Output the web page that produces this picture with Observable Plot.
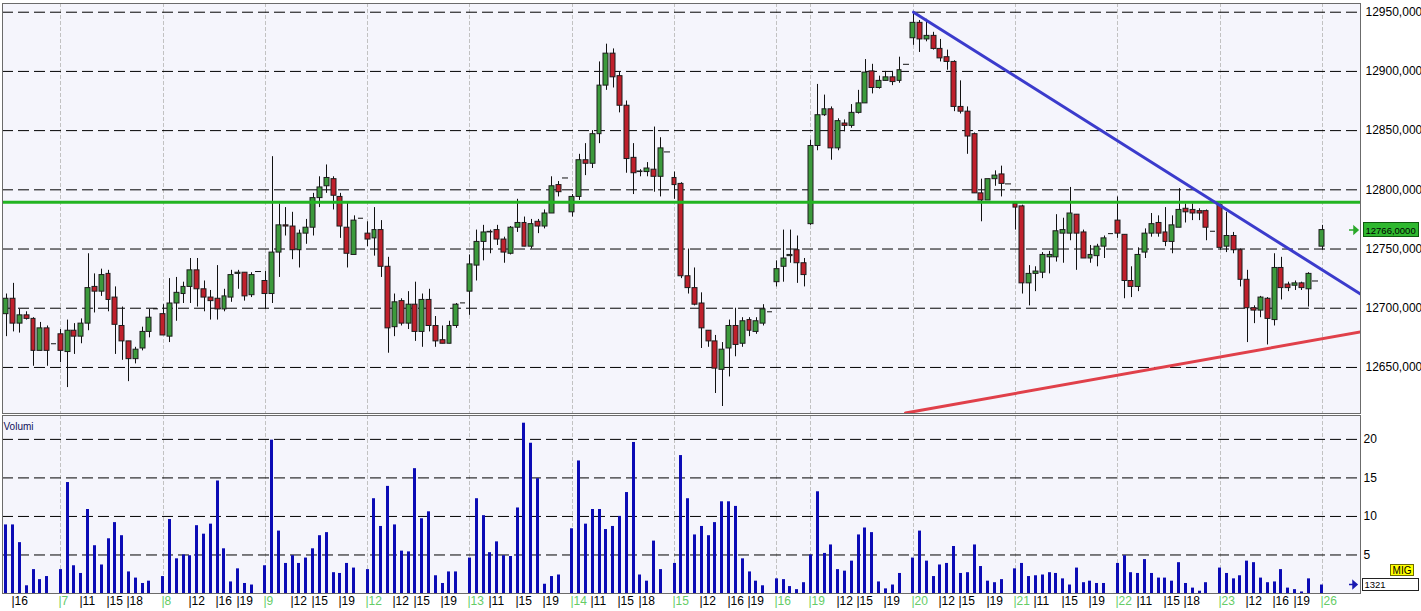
<!DOCTYPE html>
<html><head><meta charset="utf-8">
<script src="https://cdn.jsdelivr.net/npm/d3@7"></script>
<script src="https://cdn.jsdelivr.net/npm/@observablehq/plot@0.6"></script>
<style>
html,body{margin:0;padding:0;background:#fff;overflow:hidden;}
#wrap{position:relative;width:1421px;height:611px;font-family:"Liberation Sans",Arial,sans-serif;}
#wrap svg{position:absolute;left:0;}
</style></head><body><div id="wrap"></div>
<script>
// ---- data: hourly candles, slot index (15 slots per trading day, 08:00..22:00) ----
const firstSlot = -8;
const opens = [
12695,12708,12687,12694,12691,12664,12683,12670,
12678,12663,12681,12676,12687,12718,12714,12729,12709,12685,12672,12657,12666,12680,12699.5,
12695,12676,12704,12712,12718,12732,12716,12709,12708,12699,12709,12729,12730,12711,12731,
12723,12712,12747,12770,12769,12749,12763,12768,12793,12803,12809,12794,12768,12745,12776,
12763,12759,12766,12735,12684,12706,12687,12703,12680,12707,12685,12673,12670,12685,12704.5,
12714,12736,12756,12764,12766,12758,12746,12768,12772,12752,12773,12769,12780,12804,12810,
12781,12794,12825,12822,12847,12888,12915,12896,12871,12827,12815,12815,12817,12811,12832,
12810,12805,12727,12717,12704,12681,12672,12648,12666,12685,12670,12690,12680,12687,12697,
12722,12735,12744,12749,12738,
12771,12837,12863,12868,12835,12856,12854,12865,12873,12900,12886,12892,12895,12892,12906,
12928,12941,12927,12930,12919,12912,12908,12870,12866,12847,12797,12791,12809,12813,12805,
12788,12786,12721,12729,12730,12743,12743,12763,12763,12779,12764,12742,12744,12752,12763,
12774,12762,12723,12718,12747,12763,12772,12764,12756,12768,12784,12783,12782,12782,12765,
12787,12752,12761,12749,12724,12700,12698,12708,12690,12734,12720,12719,12721,12716,12723,
12752];
const highs = [
12712,12721,12699,12697,12692,12688,12685,12670,
12682,12690,12687,12691,12746,12729,12733,12732,12718,12701,12672,12667,12684,12699,12699.5,
12703,12725,12726,12722,12742,12742,12723,12715,12736,12716,12732,12732,12730,12730,12731,
12731,12828,12788,12785,12781,12766,12775,12797,12811,12821,12811,12797,12790,12778,12776,
12773,12785,12774,12743,12712,12708,12714,12722,12712,12716,12693,12685,12689,12704,12704.5,
12745,12766,12770,12766,12770,12760,12769,12792,12777,12775,12775,12783,12811,12807,12810,
12796,12830,12839,12850,12908,12923,12919,12899,12875,12839,12817,12823,12853,12844,12832,
12815,12806,12750,12734,12713,12681,12677,12671,12690,12700,12692,12692,12692,12703,12697,
12740,12766,12766,12761,12742,
12842,12889,12880,12870,12860,12859,12872,12884,12910,12906,12896,12900,12900,12912,12906,
12950,12943,12944,12933,12927,12918,12909,12892,12870,12848,12809,12809,12816,12820,12805,
12788,12787,12736,12735,12747,12748,12779,12776,12802,12779,12766,12753,12754,12761,12763,
12794,12762,12735,12751,12767,12780,12778,12785,12778,12801,12788,12788,12784,12783,12765,
12788,12781,12764,12750,12732,12702,12710,12709,12746,12743,12722,12723,12722,12730,12723,
12770];
const lows = [
12676,12680,12679,12690,12651,12664,12651,12670,
12654,12633,12661,12670,12681,12696,12710,12697,12661,12656,12638,12653,12664,12675,12699.5,
12677,12671,12689,12704,12704,12701,12697,12690,12690,12697,12705,12716,12706,12709,12731,
12699,12704,12726,12761,12741,12734,12754,12761,12785,12797,12783,12759,12734,12745,12776,
12752,12744,12726,12662,12676,12685,12682,12672,12667,12680,12667,12670,12670,12683,12704.5,
12694,12723,12740,12746,12753,12738,12745,12764,12752,12750,12763,12767,12780,12794,12810,
12777,12791,12812,12818,12839,12884,12886,12865,12814,12796,12811,12811,12798,12794,12832,
12792,12725,12712,12702,12666,12667,12628,12617,12642,12659,12667,12676,12678,12685,12697,
12718,12722,12738,12721,12718,
12770,12833,12862,12825,12833,12849,12852,12864,12873,12881,12885,12892,12888,12890,12906,
12922,12916,12925,12918,12908,12901,12866,12864,12830,12797,12773,12791,12803,12794,12805,
12766,12712,12702,12714,12725,12729,12739,12738,12757,12732,12742,12738,12735,12742,12763,
12759,12708,12709,12714,12742,12760,12760,12752,12746,12768,12772,12774,12774,12757,12765,
12749,12747,12746,12718,12671,12687,12692,12669,12685,12707,12714,12715,12715,12701,12723,
12749];
const closes = [
12708,12687,12694,12691,12664,12683,12664,12670,
12664,12681,12676,12687,12717,12714,12728,12707,12686,12672,12657,12665,12680,12692,12699.5,
12677,12704,12713,12718,12732,12716,12709,12706,12699,12710,12728,12730,12710,12728,12731,
12712,12747,12770,12769,12749,12763,12768,12793,12802,12810,12795,12769,12746,12774,12776,
12758,12766,12735,12683,12705,12687,12703,12680,12707,12685,12672,12670,12685,12703,12704.5,
12737,12756,12764,12764.5,12758,12747,12768,12772,12752,12771,12769,12780,12803,12798,12810,
12794,12825,12822,12847,12888,12915,12895,12871,12826,12814,12815.5,12818,12811,12835,12832,
12804,12727,12717,12703,12683,12672,12649,12665,12685,12669,12689,12681,12689,12699,12697,
12733,12742,12745,12738,12728,
12837,12863,12868,12835,12858,12854,12865,12873,12899,12886,12892,12895,12891,12901,12906,
12941,12927,12930,12919,12911,12908,12870,12866,12845,12797,12791,12809,12812,12805,12805,
12785,12721,12729,12731,12745,12745,12765,12766,12780,12763,12742,12745,12752,12759,12763,
12763,12723,12718,12745,12763,12771,12763,12756,12770,12783,12781,12780,12780,12768,12765,
12751,12761,12749,12724,12700,12698,12709,12691,12734,12717,12717,12721,12717,12729,12723,
12766];
const volumes = [
8.9,8.9,6.6,1.0,3.1,1.8,2.2,0,
3.1,14.4,3.6,2.6,10.9,6.2,3.7,7.1,9.2,7.5,2.8,2.0,1.3,1.6,0,
2.2,9.6,4.5,5.0,4.9,8.8,7.7,9.0,14.6,5.8,1.5,3.2,1.3,1.1,0,
3.6,19.9,8.1,3.9,4.9,3.9,4.6,5.8,7.5,7.9,2.7,2.6,3.9,3.3,0,
3.1,12.3,8.7,13.9,8.9,5.5,5.4,16.2,9.7,10.6,2.3,1.3,2.8,2.8,0,
4.6,12.3,10.1,5.3,6.7,4.9,4.8,11.1,22.1,19.5,14.9,1.2,2.2,2.4,0,
8.4,17.2,9.0,10.9,10.9,8.3,8.7,10.0,13.1,19.6,2.4,1.6,6.8,3.1,0,
3.9,17.9,12.3,7.6,8.7,7.5,9.2,11.9,11.9,11.3,4.5,2.8,1.6,1.0,0,
1.9,1.8,0.9,0.5,1.4,
5.0,13.2,5.2,6.3,3.1,2.9,4.2,7.6,8.5,7.9,1.5,0.6,1.1,2.6,0,
4.6,8.1,4.2,2.2,3.7,3.9,6.1,2.6,2.7,6.3,3.5,1.6,1.4,1.8,0,
3.2,3.9,2.2,2.3,2.4,2.7,2.6,1.9,1.1,3.3,1.4,1.6,1.3,1.3,0,
3.9,4.9,2.7,2.6,4.4,2.6,2.0,2.0,1.6,4.0,1.3,0.7,0.3,1.4,0,
3.3,2.6,1.9,2.3,4.2,4.0,2.0,1.4,1.5,3.1,0.7,0.5,0.2,1.9,0,
1.1];

const priceTicks = [12650, 12700, 12750, 12800, 12850, 12900, 12950];
const volumeTicks = [5, 10, 15, 20];
const daySlots  = [0, 15, 30, 45, 60, 75, 90, 105, 110, 125, 140, 155, 170, 185];
const dayLabels = ["7","8","9","12","13","14","15","16","19","20","21","22","23","26"];
const hourSlots = [-7,3,7,10,19,23,26,34,37,41,49,52,56,63,67,71,78,82,85,94,98,101,114,117,121,129,132,136,143,147,151,158,162,165,174,178,181];
const hourLabels = ["16","11","15","18","12","16","19","12","15","19","12","15","19","11","15","19","11","15","18","12","16","19","12","15","19","12","15","19","11","15","19","11","15","18","12","16","19"];
const resistanceLevel = 12789.5;
const blueTrendSlots = [125, 190.6];
const blueTrendPrices = [12950, 12712];
const redTrendSlots = [123.9, 190.6];
const redTrendPrices = [12611.5, 12680];
const lastPrice = 12766;
const counterText = "1321";

// ---- build ----
const candles = opens.map((o, i) => ({slot: firstSlot + i, open: o, high: highs[i], low: lows[i], close: closes[i], volume: volumes[i]}));
const bodies = candles.filter(d => d.high > d.low);
const flats = candles.filter(d => d.high === d.low);
const hourMap = new Map(hourSlots.map((s, i) => [s, hourLabels[i]]));
const dayMap = new Map(daySlots.map((s, i) => [s, dayLabels[i]]));
const blueTrend = blueTrendSlots.map((s, i) => ({slot: s, price: blueTrendPrices[i]}));
const redTrend = redTrendSlots.map((s, i) => ({slot: s, price: redTrendPrices[i]}));

const xDomain = [-8.55, 190.6];
const bg = "#f5f5fc";
const gridStyle = {stroke: "#000", strokeDasharray: "11,5", strokeWidth: 1};
const dayStyle = {stroke: "#c2c2c2", strokeDasharray: "4,2"};
const font = {fontFamily: "'Liberation Sans', Arial, sans-serif", fontSize: "12px", background: "transparent", color: "#000"};

const price = Plot.plot({
  width: 1421, height: 415,
  marginTop: 3, marginBottom: 2, marginLeft: 2, marginRight: 61,
  x: {domain: xDomain, axis: null, round: true},
  y: {domain: [12611.1, 12957.35], label: null},
  style: font,
  marks: [
    Plot.frame({fill: bg}),
    Plot.ruleX(daySlots, dayStyle),
    Plot.ruleY(priceTicks, gridStyle),
    Plot.ruleX(bodies, {x: "slot", y1: "low", y2: "high", stroke: "#111"}),
    Plot.rect(bodies, {x1: d => d.slot - 0.36, x2: d => d.slot + 0.36, y1: "open", y2: "close",
      fill: d => d.close >= d.open ? "#3c9a3c" : "#c0202c", stroke: "#1c1c1c", strokeWidth: 1}),
    Plot.ruleY(flats, {y: "close", x1: d => d.slot - 0.4, x2: d => d.slot + 0.4, stroke: "#111"}),
    Plot.ruleY([resistanceLevel], {stroke: "#22b422", strokeWidth: 3}),
    Plot.line(blueTrend, {x: "slot", y: "price", stroke: "#3b3bcc", strokeWidth: 3, clip: true}),
    Plot.line(redTrend, {x: "slot", y: "price", stroke: "#e0404a", strokeWidth: 3, clip: true}),
    Plot.frame({stroke: "#6b6b6b"}),
    Plot.axisY(priceTicks, {anchor: "right", label: null, tickSize: 0, tickPadding: 5, tickFormat: d => d + ",000", fill: "#000"})
  ]
});
price.style.top = "0px";

// last price marker
{
  const yy = Math.round(price.scale("y").apply(lastPrice));
  const s = d3.select(price);
  s.append("path").attr("d", `M1349,${yy} h5 M1354,${yy-3.5} l4,3.5 l-4,3.5 z`)
    .attr("stroke", "#2aa82a").attr("fill", "#2aa82a").attr("stroke-width", 1.5);
  s.append("rect").attr("x", 1363.5).attr("y", yy - 7.5).attr("width", 55).attr("height", 14)
    .attr("fill", "#2fb82f").attr("stroke", "#0d5a0d");
  s.append("text").attr("x", 1365.5).attr("y", yy + 3.5).attr("text-anchor", "start")
    .attr("font-size", 9.5).attr("fill", "#000")
    .text(d3.format(".4f")(lastPrice).replace(".", ","));
}

const vol = Plot.plot({
  width: 1421, height: 196,
  marginTop: 0, marginBottom: 18, marginLeft: 2, marginRight: 61,
  x: {domain: xDomain, round: true, label: null},
  y: {domain: [0, 23.1], label: null},
  style: font,
  marks: [
    Plot.frame({fill: bg}),
    Plot.ruleX(daySlots, dayStyle),
    Plot.ruleY(volumeTicks, gridStyle),
    Plot.rect(candles.filter(d => d.volume > 0), {x1: d => d.slot - 0.22, x2: d => d.slot + 0.22, y1: 0, y2: "volume", fill: "#0b0bb5"}),
    Plot.frame({stroke: "#6b6b6b"}),
    Plot.axisY(volumeTicks, {anchor: "right", label: null, tickSize: 0, tickPadding: 3, fill: "#000"}),
    Plot.axisX(hourSlots, {anchor: "bottom", label: null, tickSize: 0, tickPadding: 3, textAnchor: "start", dx: -2,
      tickFormat: d => "|" + hourMap.get(d), fill: "#000"}),
    Plot.axisX(daySlots, {anchor: "bottom", label: null, tickSize: 0, tickPadding: 3, textAnchor: "start", dx: -2,
      tickFormat: d => "|" + dayMap.get(d), fill: "#66cc66"}),
    Plot.text(["Volumi"], {frameAnchor: "top-left", dx: 1, dy: 7, fill: "#10105a", fontSize: 10})
  ]
});
vol.style.top = "415px";
{
  const s = d3.select(vol);
  s.append("rect").attr("x", 1390.5).attr("y", 149.5).attr("width", 23).attr("height", 11)
    .attr("fill", "#ffff00").attr("stroke", "#6b6b00");
  s.append("text").attr("x", 1402).attr("y", 158.5).attr("text-anchor", "middle").attr("font-size", 10).attr("fill", "#000").text("MIG");
  s.append("rect").attr("x", 1362.5).attr("y", 163.5).attr("width", 56).attr("height", 12)
    .attr("fill", "#fff").attr("stroke", "#222");
  s.append("text").attr("x", 1364.5).attr("y", 173).attr("text-anchor", "start").attr("font-size", 9.5).attr("fill", "#000").text(counterText);
  s.append("path").attr("d", "M1349,169.5 h4 M1353,166 l4,3.5 l-4,3.5 z")
    .attr("stroke", "#1a1ab0").attr("fill", "#1a1ab0").attr("stroke-width", 1.5);
}
const wrap = document.getElementById("wrap");
wrap.appendChild(price);
wrap.appendChild(vol);
</script></body></html>
